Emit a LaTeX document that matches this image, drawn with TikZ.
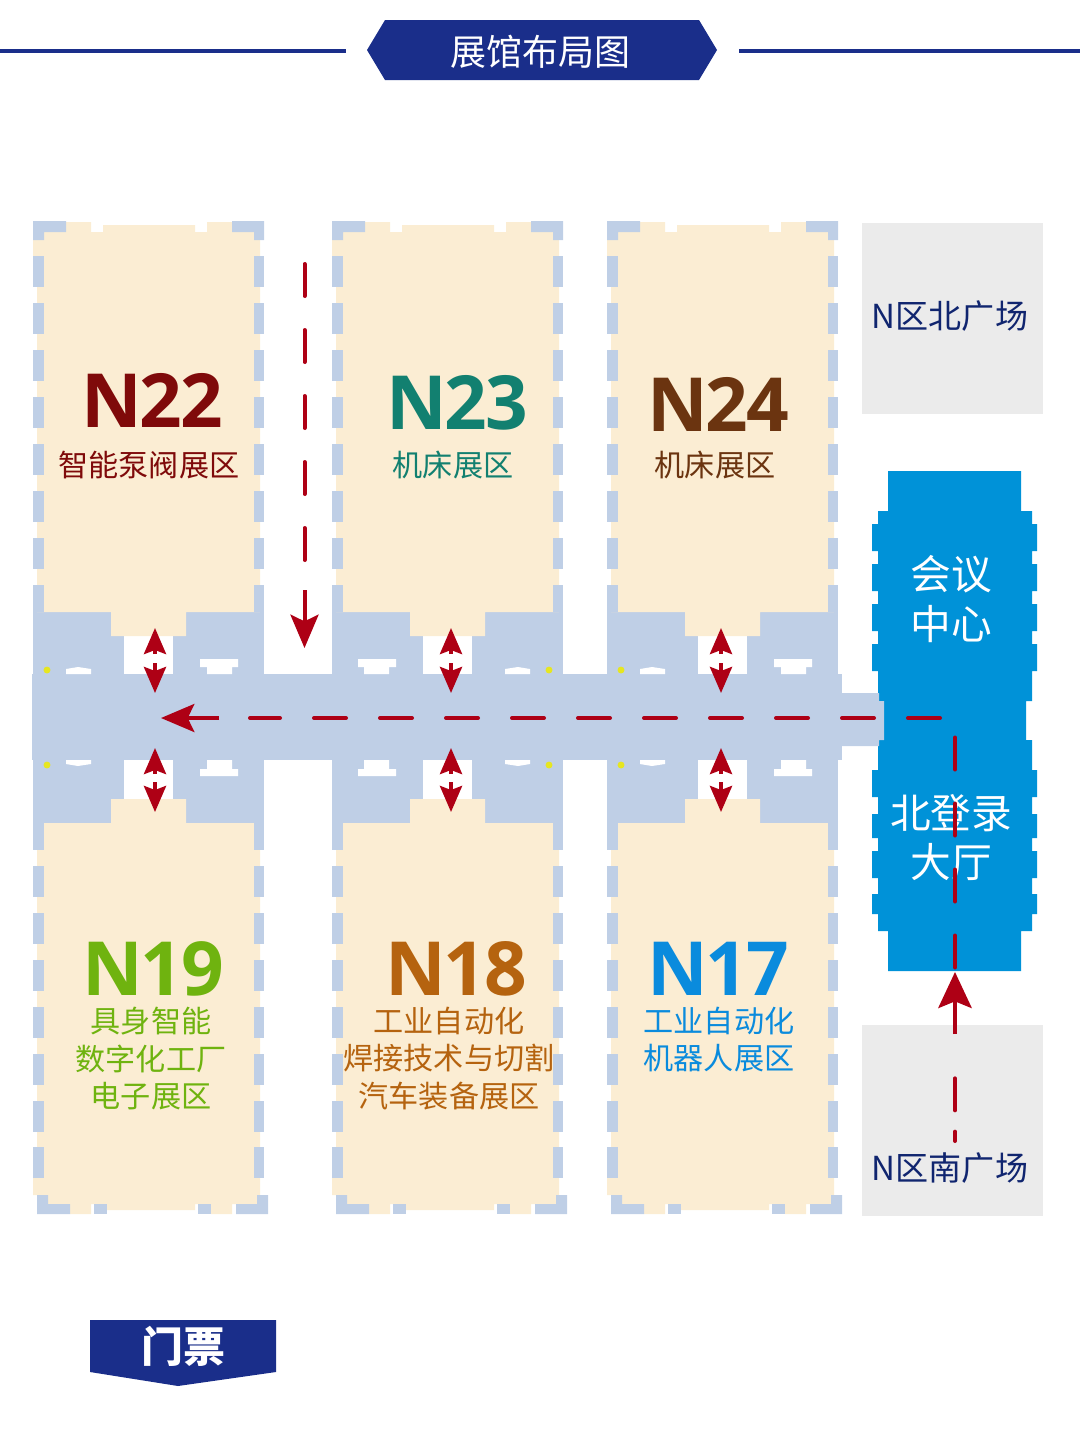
\documentclass[tikz,border=0pt]{standalone}
\usepackage{fontspec}
\setmainfont{Noto Sans CJK SC}
\newfontfamily\hallfont[LetterSpace=-3]{Open Sans}
\usetikzlibrary{arrows.meta}

\definecolor{hallcream}{HTML}{FBEDD3}
\definecolor{aisleblue}{HTML}{BFCFE6}
\definecolor{lobbyblue}{HTML}{0092D8}
\definecolor{titlenavy}{HTML}{1A2E8A}
\definecolor{plazatext}{HTML}{10256F}
\definecolor{plazagray}{HTML}{EBEBEB}
\definecolor{routered}{HTML}{AE0015}
\definecolor{dotyellow}{HTML}{E6E620}
\definecolor{HallA}{HTML}{7F0A0A}
\definecolor{HallB}{HTML}{128070}
\definecolor{HallC}{HTML}{6B3410}
\definecolor{HallD}{HTML}{6FB30F}
\definecolor{HallE}{HTML}{B5630F}
\definecolor{HallF}{HTML}{0A8BDD}

\tikzset{
    routedash/.style={routered, line width=3pt, line cap=round, dash pattern=on 24pt off 25.5pt},
    routearrow/.style={routered, line width=3pt, -{Stealth[length=25pt, width=21pt, inset=5pt]}},
    southarrow/.style={routered, line width=3pt, -{Stealth[length=27pt, width=25pt, inset=5pt]}},
    doorarrow/.style={routered, line width=3pt, -{Stealth[length=19.5pt, width=16.5pt, inset=3pt]}},
    hallname/.style={font=\hallfont\bfseries\fontsize{56}{42}\selectfont, inner sep=0pt, text height=40pt, text depth=0pt},
    halllabel/.style={font=\fontsize{22.6}{28}\selectfont, align=center, inner sep=0pt},
    plazalabel/.style={font=\fontsize{24.8}{28}\selectfont, text=plazatext},
    lobbylabel/.style={font=\fontsize{30.5}{36}\selectfont, text=white},
}

% one hall north of the aisle, drawn from its left edge
\newcommand{\upperhall}[1]{
    \begin{scope}[shift={(#1,0)}]
        \fill[aisleblue] (0,612) rectangle (91,674);
        \fill[aisleblue] (140,612) rectangle (231,674);
        \fill[hallcream] (33,222) -- (58,222) -- (58,232) -- (70,232) -- (70,225) -- (162,225) -- (162,232) -- (174,232) -- (174,222) -- (199,222) -- (199,232) -- (227,232) -- (227,612) -- (153,612) -- (153,636) -- (78,636) -- (78,612) -- (4,612) -- (4,256) -- (0,256) -- (0,232) -- cycle;
        % wall corners
        \fill[aisleblue] (0,221) -- (33,221) -- (33,232) -- (11,232) -- (11,240) -- (0,240) -- cycle;
        \fill[aisleblue] (199,221) -- (231,221) -- (231,240) -- (221,240) -- (221,232) -- (199,232) -- cycle;
        % wall pieces
        \foreach \y in {256, 303, 350, 397, 444, 491, 538} {
            \fill[aisleblue] (0,\y) rectangle (11,\y+31);
            \fill[aisleblue] (221,\y) rectangle (231,\y+31);
        }
        \fill[aisleblue] (0,585) rectangle (11,612);
        \fill[aisleblue] (221,585) rectangle (231,612);
    \end{scope}
}

% one hall south of the aisle
\newcommand{\lowerhall}[1]{
    \begin{scope}[shift={(#1,0)}]
        \fill[aisleblue] (0,760) rectangle (91,823);
        \fill[aisleblue] (140,760) rectangle (231,823);
        \fill[hallcream] (78,799) -- (153,799) -- (153,823) -- (227,823) -- (227,1195) -- (224,1195) -- (224,1204) -- (199,1204) -- (199,1214) -- (178,1214) -- (178,1204) -- (162,1204) -- (162,1210) -- (74,1210) -- (74,1204) -- (58,1204) -- (58,1214) -- (37,1214) -- (37,1204) -- (15,1204) -- (15,1195) -- (0,1195) -- (0,1178) -- (4,1178) -- (4,823) -- (78,823) -- cycle;
        % wall pieces
        \foreach \y in {819, 866, 913, 960, 1007, 1054, 1101, 1147} {
            \fill[aisleblue] (0,\y) rectangle (11,\y+31);
            \fill[aisleblue] (221,\y) rectangle (231,\y+31);
        }
        % wall corners
        \fill[aisleblue] (4,1195) -- (15,1195) -- (15,1204) -- (37,1204) -- (37,1214) -- (4,1214) -- cycle;
        \fill[aisleblue] (224,1195) -- (235,1195) -- (235,1214) -- (203,1214) -- (203,1204) -- (224,1204) -- cycle;
        \fill[aisleblue] (61,1204) rectangle (74,1214);
        \fill[aisleblue] (165,1204) rectangle (178,1214);
    \end{scope}
}

% openings and markers along the aisle, given the scope options
\newcommand{\aisleslots}[1]{
    \begin{scope}[#1]
        \fill[white] (33,674) -- (33,669) -- (45,667) -- (58,669) -- (58,674) -- cycle;
        \fill[white] (174,674) -- (174,667) -- (167,667) -- (167,659) -- (205,659) -- (205,667) -- (199,667) -- (199,674) -- cycle;
        \fill[white] (33,760) -- (33,764) -- (45,766) -- (58,764) -- (58,760) -- cycle;
        \fill[white] (174,760) -- (174,769) -- (167,769) -- (167,776) -- (205,776) -- (205,769) -- (199,769) -- (199,760) -- cycle;
        \fill[dotyellow] (14,670) circle (2.6pt);
        \fill[dotyellow] (14,765) circle (2.6pt);
    \end{scope}
}

\begin{document}
\begin{tikzpicture}[x=0.75pt, y=-0.75pt]
    \useasboundingbox (0,0) rectangle (1080,1440);

    % title band
    \fill[titlenavy] (0,49) rectangle (346,53);
    \fill[titlenavy] (739,49) rectangle (1080,53);
    \fill[titlenavy] (367,50) -- (385,20) -- (699,20) -- (717,50) -- (699,80) -- (385,80) -- cycle;
    \node[font=\fontsize{27}{32}\selectfont, text=white] (title) at (540,52) {展馆布局图};

    % plazas
    \fill[plazagray] (862,223) rectangle (1043,414);
    \fill[plazagray] (862,1025) rectangle (1043,1216);
    \node[plazalabel] (northplaza) at (950,316) {N区北广场};
    \node[plazalabel] (southplaza) at (950,1168) {N区南广场};

    % halls
    \foreach \x in {33, 332, 607} {
        \upperhall{\x}
    }
    \foreach \x in {33, 332, 607} {
        \lowerhall{\x}
    }

    % main aisle
    \fill[aisleblue] (32,674) rectangle (842,760);
    \aisleslots{shift={(33,0)}}
    \aisleslots{shift={(563,0)}, xscale=-1}
    \aisleslots{shift={(607,0)}}

    % lobby
    \fill[lobbyblue] (888,471) -- (1021,471) -- (1021,511) -- (1032,511) -- (1032,524) -- (1037,524) -- (1037,551) -- (1032,551) -- (1032,564) -- (1037,564) -- (1037,591) -- (1032,591) -- (1032,604) -- (1037,604) -- (1037,631) -- (1032,631) -- (1032,644) -- (1037,644) -- (1037,671) -- (1032,671) -- (1032,701) -- (1026,701) -- (1026,740) -- (1032,740) -- (1032,770) -- (1037,770) -- (1037,797) -- (1032,797) -- (1032,814) -- (1037,814) -- (1037,838) -- (1032,838) -- (1032,851) -- (1037,851) -- (1037,878) -- (1032,878) -- (1032,894) -- (1037,894) -- (1037,914) -- (1032,914) -- (1032,931) -- (1021,931) -- (1021,971) -- (888,971) -- (888,931) -- (878,931) -- (878,914) -- (872,914) -- (872,894) -- (878,894) -- (878,878) -- (872,878) -- (872,851) -- (878,851) -- (878,838) -- (872,838) -- (872,814) -- (878,814) -- (878,797) -- (872,797) -- (872,770) -- (878,770) -- (878,671) -- (872,671) -- (872,644) -- (878,644) -- (878,631) -- (872,631) -- (872,604) -- (878,604) -- (878,591) -- (872,591) -- (872,564) -- (878,564) -- (878,551) -- (872,551) -- (872,524) -- (878,524) -- (878,511) -- (888,511) -- cycle;
    \fill[aisleblue] (842,693) -- (879,693) -- (879,701) -- (884,701) -- (884,740) -- (879,740) -- (879,746) -- (842,746) -- cycle;
    \node[lobbylabel] (meetingone) at (951,574) {会议};
    \node[lobbylabel] (meetingtwo) at (951,624) {中心};
    \node[lobbylabel] (loginone) at (951,813) {北登录};
    \node[lobbylabel] (logintwo) at (951,862) {大厅};

    % hall names
    \node[hallname, text=HallA] (nameNtwotwo) at (152,401) {N22};
    \node[halllabel, text=HallA] (labelNtwotwo) at (149,465) {智能泵阀展区};
    \node[hallname, text=HallB] (nameNtwothree) at (457,403) {N23};
    \node[halllabel, text=HallB] (labelNtwothree) at (453,465) {机床展区};
    \node[hallname, text=HallC] (nameNtwofour) at (718,405) {N24};
    \node[halllabel, text=HallC] (labelNtwofour) at (715,465) {机床展区};
    \node[hallname, text=HallD] (nameNonenine) at (153,969) {N19};
    \node[halllabel, text=HallD, anchor=north] (labelNonenine) at (151,1007) {具身智能\\数字化工厂\\电子展区};
    \node[hallname, text=HallE] (nameNoneeight) at (456,969) {N18};
    \node[halllabel, text=HallE, anchor=north] (labelNoneeight) at (449,1007) {工业自动化\\焊接技术与切割\\汽车装备展区};
    \node[hallname, text=HallF] (nameNoneseven) at (718,969) {N17};
    \node[halllabel, text=HallF, anchor=north] (labelNoneseven) at (719,1007) {工业自动化\\机器人展区};

    % route from the north
    \coordinate (northstart) at (304.5,264);
    \coordinate (northend) at (304.5,564);
    \coordinate (northarrowstart) at (304.5,590);
    \coordinate (northarrowtip) at (304.5,648);
    \draw[routedash] (northstart) -- (northend);
    \draw[routearrow] (northarrowstart) -- (northarrowtip);

    % route along the aisle
    \coordinate (aislestart) at (940,718);
    \coordinate (aisleend) at (250,718);
    \coordinate (aislearrowstart) at (219,718);
    \coordinate (aislearrowtip) at (161,718);
    \draw[routedash] (aislestart) -- (aisleend);
    \draw[routearrow] (aislearrowstart) -- (aislearrowtip);

    % route from the south
    \coordinate (lobbystart) at (955,737.5);
    \coordinate (lobbyend) at (955,968);
    \coordinate (southarrowstart) at (955,1034);
    \coordinate (southarrowtip) at (955,972);
    \coordinate (southstart) at (955,1141);
    \coordinate (southend) at (955,1066);
    \draw[routedash] (lobbystart) -- (lobbyend);
    \draw[southarrow] (southarrowstart) -- (southarrowtip);
    \draw[routedash, dash pattern=on 7pt off 16pt on 24pt off 25pt] (southstart) -- (southend);

    % arrows through the doors
    \foreach \x in {155, 451, 721} {
        \coordinate (upperup) at (\x,654);
        \coordinate (uppertip) at (\x,628);
        \coordinate (lowerdown) at (\x,663);
        \coordinate (lowertip) at (\x,693);
        \draw[doorarrow] (upperup) -- (uppertip);
        \draw[doorarrow] (lowerdown) -- (lowertip);
        \coordinate (upperup) at (\x,774);
        \coordinate (uppertip) at (\x,748);
        \coordinate (lowerdown) at (\x,782);
        \coordinate (lowertip) at (\x,812);
        \draw[doorarrow] (upperup) -- (uppertip);
        \draw[doorarrow] (lowerdown) -- (lowertip);
    }

    % ticket tab
    \fill[titlenavy] (90,1320) -- (276,1320) -- (276,1372) -- (178,1386) -- (90,1372) -- cycle;
    \node[font=\bfseries\fontsize{31.5}{36}\selectfont, text=white] (ticket) at (183,1346) {门票};
\end{tikzpicture}
\end{document}
